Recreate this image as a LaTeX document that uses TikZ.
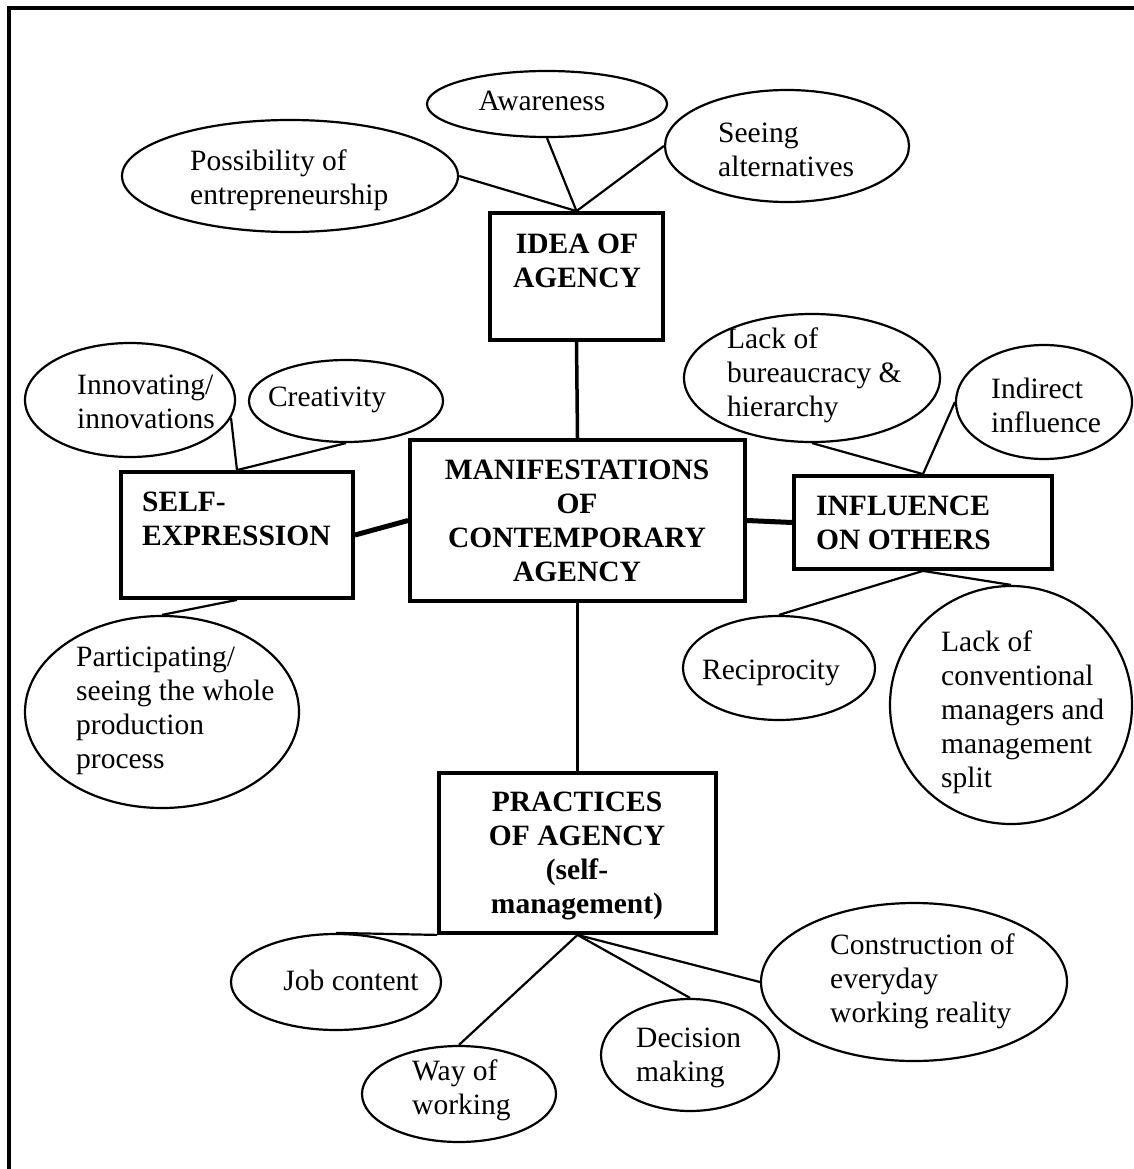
\documentclass[tikz,border=0pt]{standalone}
\usepackage{fontspec}
\setmainfont{Liberation Serif}
\usetikzlibrary{shapes.geometric}
\begin{document}
\begin{tikzpicture}[x=1pt,y=-1pt,
  bubble/.style={draw, ellipse, line width=2.2pt, inner sep=0pt},
  panel/.style={draw, rectangle, line width=3.8pt, inner sep=0pt},
  txt/.style={inner sep=0pt, font=\fontsize{29.5}{34}\selectfont, align=left},
  head/.style={inner sep=0pt, font=\fontsize{29.5}{34}\selectfont\bfseries, align=center},
  link/.style={line width=2.2pt},
  stem/.style={line width=3.5pt},
  bar/.style={line width=5pt}]
\useasboundingbox (0,0) rectangle (1134,1169);
% frame
\draw[line width=3.5pt] (9,1175) -- (9,8) -- (1140,8);

% boxes
\node[panel, minimum width=173pt, minimum height=127pt] (idea) at (576.5,276.5) {};
\node[panel, minimum width=335pt, minimum height=161pt] (manif) at (577.5,520.5) {};
\node[panel, minimum width=232pt, minimum height=126pt] (self) at (237,535) {};
\node[panel, minimum width=258pt, minimum height=93pt] (infl) at (923,522.5) {};
\node[panel, minimum width=277pt, minimum height=160pt] (prac) at (577.5,853) {};

% ellipses
\node[bubble, minimum width=240pt, minimum height=66pt] (aware) at (547,104) {};
\node[bubble, minimum width=336pt, minimum height=112pt] (poss) at (290,176) {};
\node[bubble, minimum width=244pt, minimum height=112pt] (seeing) at (787,146) {};
\node[bubble, minimum width=210pt, minimum height=114pt] (innov) at (130,400) {};
\node[bubble, minimum width=194pt, minimum height=82pt] (creat) at (346,401) {};
\node[bubble, minimum width=256pt, minimum height=128pt] (lackb) at (812,378) {};
\node[bubble, minimum width=176pt, minimum height=114pt] (indir) at (1044,402) {};
\node[bubble, minimum width=192pt, minimum height=104pt] (recip) at (779,668) {};
\node[bubble, minimum width=242pt, minimum height=238pt] (lackc) at (1011,705) {};
\node[bubble, minimum width=274pt, minimum height=192pt] (partic) at (162,712) {};
\node[bubble, minimum width=210pt, minimum height=96pt] (job) at (336,982) {};
\node[bubble, minimum width=194pt, minimum height=96pt] (way) at (459,1094) {};
\node[bubble, minimum width=178pt, minimum height=112pt] (decis) at (690,1055) {};
\node[bubble, minimum width=306pt, minimum height=158pt] (constr) at (914,982) {};

% texts
\node[txt] (aware-t) at (542,101) {Awareness};
\node[txt, anchor=west] (poss-t) at (190,180) {Possibility of\\entrepreneurship};
\node[txt, anchor=west] (seeing-t) at (718,150) {Seeing\\alternatives};
\node[head] (idea-t) at (577,261) {IDEA OF\\AGENCY};
\node[txt, anchor=west] (innov-t) at (77,402) {Innovating/\\innovations};
\node[txt] (creat-t) at (327,400) {Creativity};
\node[txt, anchor=west] (lackb-t) at (727,375) {Lack of\\bureaucracy \&\\hierarchy};
\node[txt, anchor=west] (indir-t) at (991,405) {Indirect\\influence};
\node[head] (manif-t) at (577,521) {MANIFESTATIONS\\OF\\CONTEMPORARY\\AGENCY};
\node[head, align=left, anchor=west] (self-t) at (142,519) {SELF-\\EXPRESSION};
\node[head, align=left, anchor=west] (infl-t) at (816,523) {INFLUENCE\\ON OTHERS};
\node[txt] (recip-t) at (771,673) {Reciprocity};
\node[txt, anchor=west] (lackc-t) at (941,712) {Lack of\\conventional\\managers and\\management\\split};
\node[txt, anchor=west] (partic-t) at (76,711) {Participating/\\seeing the whole\\production\\process};
\node[head] (prac-t) at (577,856) {PRACTICES\\OF AGENCY\\(self-\\management)};
\node[txt] (job-t) at (351,980) {Job content};
\node[txt, anchor=west] (way-t) at (412,1090) {Way of\\working};
\node[txt, anchor=west] (decis-t) at (636,1058) {Decision\\making};
\node[txt, anchor=west] (constr-t) at (830,981) {Construction of\\everyday\\working reality};

% connectors: idea of agency
\draw[link] (poss.east) -- (idea.north);
\draw[link] (aware.south) -- (idea.north);
\draw[link] (seeing.west) -- (idea.north);
% self-expression
\draw[link] (innov.-10) -- (self.north);
\draw[link] (creat.south) -- (self.north);
\draw[link] (self.south) -- (partic.north);
% influence on others
\draw[link] (lackb.south) -- (infl.north);
\draw[link] (indir.west) -- (infl.north);
\draw[link] (infl.south) -- (recip.north);
\draw[link] (infl.south) -- (lackc.north);
% practices of agency
\draw[link] (job.north) -- (prac.south west);
\draw[link] (prac.south) -- (way.north);
\draw[link] (prac.south) -- (decis.north);
\draw[link] (prac.south) -- (constr.west);
% centre
\draw[stem] (idea.south) -- (manif.north);
\draw[stem] (manif.south) -- (prac.north);
\draw[bar] (self.east) -- (manif.west);
\draw[bar] (manif.east) -- (infl.west);
\end{tikzpicture}
\end{document}
